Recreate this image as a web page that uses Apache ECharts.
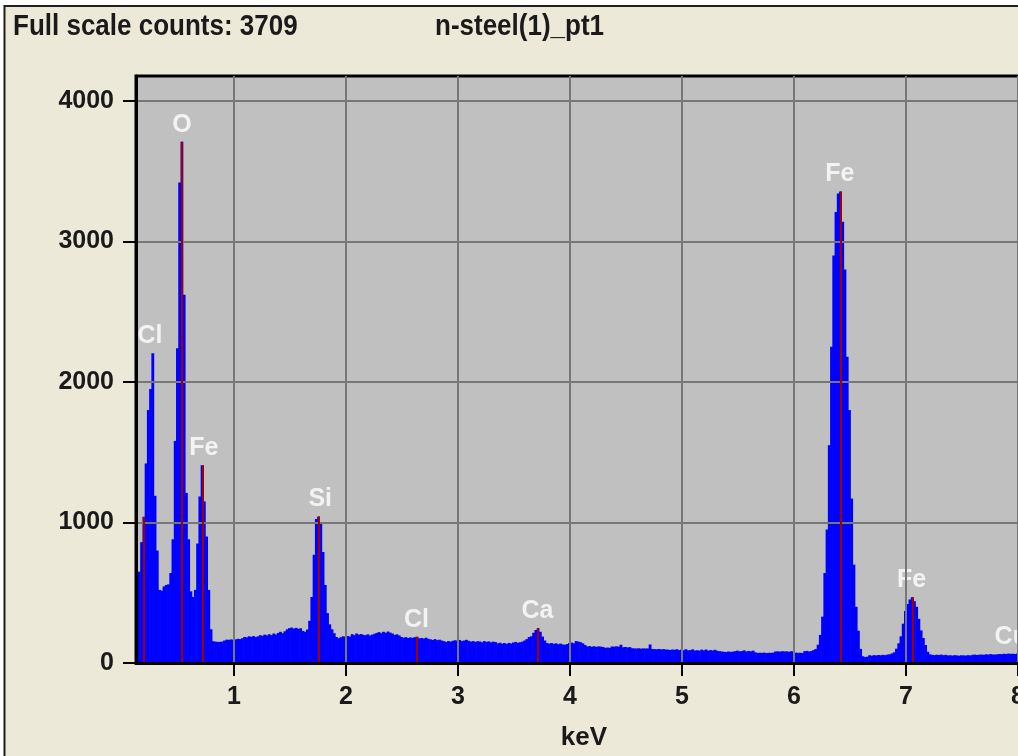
<!DOCTYPE html>
<html><head><meta charset="utf-8">
<script src="https://cdn.jsdelivr.net/npm/echarts@6/dist/echarts.min.js"></script>
<style>html,body{margin:0;padding:0;background:#fff;overflow:hidden;width:1018px;height:756px}#c{width:1060px;height:756px}</style>
</head><body><div id="c"></div>
<script>
// Channel calibration (keV)
const CH_FIRST_CENTER = 0.135;
const CH_WIDTH = 0.02;
const X_MIN = 0.125, X_MAX = 8.125, Y_MAX = 4177;

// Counts per channel
const countsLow = [520,650,860,1040,1420,1800,1950,2205,1190,800,520,515,545,555,560,640,880,1580,2240,3420,3709,2620,1210,880,510,470,520,850,1185,1407,1150,900,520,240,155,152,150,151,152,160,166,165,168,163];
const countsMid1 = [168,172,170,176,185,182,190,186,192,184,190,198,194,202,196,205,198,210,203,214,222,212,226,240,248,252,245,250,243,247,228,222,238,300,470,770,1025,1042,1000,790,555,355,275,240,212,185,176,184,190,186];
const countsMid2 = [192,188,205,198,210,202,206,200,198,204,196,202,208,214,220,212,222,215,224,216,210,200,204,196,185,180,184,178,182,179,184,186,176,178,174,180,172,168,164,170,163,166,160,155,150,156,152,158,162,158];
const countsMid3 = [164,156,160,165,158,152,156,150,155,153,148,156,150,154,147,152,149,140,144,138,142,136,143,139,146,150,144,148,152,160,170,185,190,215,235,248,222,188,160,142,138,142,136,140,134,138,132,130,135,142];
const countsHigh1 = [145,140,156,152,148,140,128,118,120,116,119,115,118,117,114,108,110,108,118,116,119,116,130,112,114,111,113,105,104,103,105,102,104,103,104,132,100,99,98,100,97,99,96,95,93,96,94,98,92,95,91,98,90,92,97,89,91,88,95,90,96,88,92,89,94,87,84,82,80,78,82,79,81,84,88,83,85,90,82,86,83,88,76,72,73,72,74,71,73,72,74,82,83,81,84,82,83,80,84,82,74,72,73,71,84,86,82,85,92];
const countsFeK = [100,130,200,330,640,950,1550,2250,2900,3210,3340,3355,3140,2800,2180,1800,1170,700,400,230,100,48,42,45];
const countsHigh2 = [55,52,56,54,57,55,58,56,60,62,68,76,102,140,190,280,370,420,452,468,440,400,314,232,178,128,80,62,58,56,59,57,60,56,58,54,55,53,56,54,52,55,54,53,56,54,58,60,57,59,60,58,62,60,63,61,60,62,64,63,66,64,67,65,66,64,67,68,66,65,63,64,62];

// Axes ticks
const xTickValues = [1,2,3,4,5,6,7,8];
const yTickValues = [0,1000,2000,3000,4000];

// Element line markers and labels
const markerKeV = [0.195, 0.535, 0.72, 1.76, 2.63, 3.715, 6.415, 7.06, 8.04];
const labelNames = ['Cl','O','Fe','Si','Cl','Ca','Fe','Fe','Cu'];
const labelKeV = [0.25, 0.535, 0.73, 1.77, 2.63, 3.71, 6.41, 7.05, 7.94];
const labelCounts = [2205, 3709, 1407, 1042, 186, 248, 3355, 468, 62];

const titleLeft = 'Full scale counts: 3709';
const titleRight = 'n-steel(1)_pt1';
const xName = 'keV';

const counts = [].concat(countsLow, countsMid1, countsMid2, countsMid3, countsHigh1, countsFeK, countsHigh2);
const spectrum = counts.map((c, i) => [+(CH_FIRST_CENTER + i * CH_WIDTH).toFixed(4), c]);
const countAt = e => counts[Math.round((e - CH_FIRST_CENTER) / CH_WIDTH)];

const FONT = '"Liberation Sans", Arial, sans-serif';
const DARK = '#1a1a1a';

const chart = echarts.init(document.getElementById('c'), null, {renderer: 'canvas'});
chart.setOption({
  animation: false,
  backgroundColor: '#ECE9D8',
  graphic: [
    {type: 'rect', shape: {x: 0, y: 0, width: 1060, height: 5}, style: {fill: '#fff'}},
    {type: 'rect', shape: {x: 0, y: 0, width: 3.5, height: 756}, style: {fill: '#fff'}},
    {type: 'polyline', shape: {points: [[4.5, 756], [4.5, 6], [1060, 6]]}, style: {stroke: '#202020', lineWidth: 2, fill: null}},
    {type: 'text', x: 13, y: 27, scaleY: 1.12, style: {text: titleLeft, fill: DARK, font: 'bold 26px ' + FONT, verticalAlign: 'middle', textVerticalAlign: 'middle'}},
    {type: 'text', x: 435, y: 27, scaleY: 1.12, style: {text: titleRight, fill: DARK, font: 'bold 26px ' + FONT, verticalAlign: 'middle', textVerticalAlign: 'middle'}}
  ],
  grid: {left: 136, top: 76, width: 896, height: 589, show: true, backgroundColor: '#C0C0C0', borderColor: '#000', borderWidth: 3, containLabel: false},
  xAxis: {
    type: 'value', min: X_MIN, max: X_MAX, z: 10,
    name: xName, nameLocation: 'middle', nameGap: 62,
    nameTextStyle: {color: DARK, fontSize: 26, fontWeight: 'bold', fontFamily: FONT},
    axisLine: {show: true, lineStyle: {color: '#000', width: 3}},
    axisTick: {show: true, length: 13, lineStyle: {color: '#000', width: 2}, customValues: xTickValues},
    axisLabel: {show: true, margin: 22, color: DARK, fontSize: 25, fontWeight: 'bold', fontFamily: FONT, customValues: xTickValues, formatter: v => String(v)},
    splitLine: {show: false}
  },
  yAxis: {
    type: 'value', min: 0, max: Y_MAX, z: 10,
    axisLine: {show: true, lineStyle: {color: '#000', width: 3}},
    axisTick: {show: true, length: 13, lineStyle: {color: '#000', width: 2}, customValues: yTickValues},
    axisLabel: {show: true, margin: 22, color: DARK, fontSize: 25, fontWeight: 'bold', fontFamily: FONT, customValues: yTickValues, formatter: v => String(v)},
    splitLine: {show: false}
  },
  series: [
    {
      type: 'line', z: 1, silent: true, data: [[X_MIN, 0]], symbol: 'none', lineStyle: {opacity: 0},
      markLine: {
        silent: true, animation: false, symbol: ['none', 'none'], label: {show: false},
        lineStyle: {color: '#777777', width: 2, type: 'solid'},
        emphasis: {disabled: true},
        data: [
          ...xTickValues.map(v => [{coord: [v, 0]}, {coord: [v, Y_MAX]}]),
          ...yTickValues.filter(v => v > 0).map(v => [{coord: [X_MIN, v]}, {coord: [X_MAX, v]}])
        ]
      }
    },
    {
      type: 'custom', z: 2, silent: true, clip: true,
      data: spectrum,
      encode: {x: 0, y: 1},
      renderItem: (params, api) => {
        const e = api.value(0), c = api.value(1);
        const p0 = api.coord([e - CH_WIDTH / 2, c]);
        const p1 = api.coord([e + CH_WIDTH / 2, 0]);
        return {
          type: 'rect',
          shape: {x: p0[0] - 0.3, y: p0[1], width: p1[0] - p0[0] + 0.6, height: p1[1] - p0[1]},
          style: {fill: '#0000FF'}
        };
      }
    },
    {
      type: 'line', z: 3, silent: true, data: [[X_MIN, 0]], symbol: 'none', lineStyle: {opacity: 0},
      markLine: {
        silent: true, animation: false, symbol: ['none', 'none'], label: {show: false},
        lineStyle: {color: '#a00000', width: 2, type: 'solid'},
        emphasis: {disabled: true},
        data: markerKeV.map(e => [{coord: [e, 0]}, {coord: [e, countAt(e)]}])
      }
    },
    {
      type: 'scatter', z: 4, silent: true, symbolSize: 1,
      itemStyle: {color: 'transparent'},
      data: labelKeV.map((e, i) => ({value: [e, labelCounts[i]], name: labelNames[i]})),
      label: {show: true, position: 'top', distance: 4, formatter: p => p.name, color: '#ffffff', fontSize: 25, fontFamily: FONT, fontWeight: 'bold'}
    }
  ]
});
</script></body></html>
